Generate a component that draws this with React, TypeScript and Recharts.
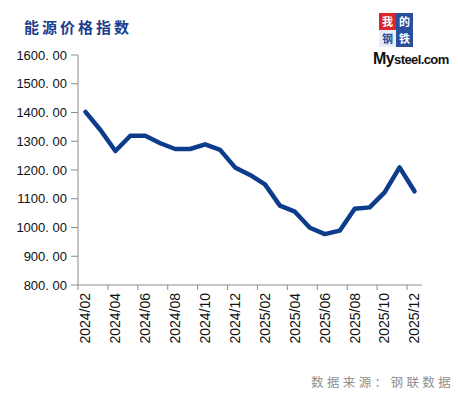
import { LineChart, Line, XAxis, YAxis } from 'recharts';

// ============================================================================
// Data
// ============================================================================

const months = [
  '2024/02', '2024/03', '2024/04', '2024/05', '2024/06', '2024/07', '2024/08',
  '2024/09', '2024/10', '2024/11', '2024/12', '2025/01', '2025/02', '2025/03',
  '2025/04', '2025/05', '2025/06', '2025/07', '2025/08', '2025/09', '2025/10',
  '2025/11', '2025/12',
];

const energyIndex = [
  1402, 1339, 1266, 1319, 1319, 1293, 1273, 1273, 1289, 1270, 1209, 1183,
  1150, 1076, 1055, 999, 977, 989, 1065, 1070, 1122, 1209, 1126,
];

const yTicks = [800, 900, 1000, 1100, 1200, 1300, 1400, 1500, 1600];

const data = months.map((m, i) => ({ month: m, value: energyIndex[i] }));

// ============================================================================
// Layout
// ============================================================================

const W = 458;
const H = 397;
const PLOT_LEFT = 78;
const PLOT_W = 344;
const HALF_STEP = PLOT_W / months.length / 2;

const AXIS = '#8c8c8c';
const LINE = '#0c3c8a';
const TICK_FONT = '"Liberation Sans", Arial, sans-serif';

function MonthTick(props: any) {
  const { x, y, payload } = props;
  const bx = x - HALF_STEP;
  return (
    <g>
      <line x1={bx} y1={y} x2={bx} y2={y + 5} stroke={AXIS} strokeWidth={1} />
      <text
        x={x}
        y={y + 8}
        transform={`rotate(-90, ${x}, ${y + 8})`}
        textAnchor="end"
        dy="0.35em"
        fontSize={14}
        fontFamily={TICK_FONT}
        fill="#111"
      >
        {payload.value}
      </text>
    </g>
  );
}

// small 2x2 "我的钢铁" block plus the Mysteel.com wordmark
function Logo() {
  const cell = (bg: string, fg: string, ch: string, left: number, top: number) => (
    <div
      style={{
        position: 'absolute',
        left,
        top,
        width: 17,
        height: 17,
        background: bg,
        color: fg,
        fontSize: 11,
        lineHeight: '17px',
        textAlign: 'center',
        fontWeight: 700,
        fontFamily: '"Noto Sans CJK SC", sans-serif',
      }}
    >
      {ch}
    </div>
  );
  return (
    <div style={{ position: 'absolute', left: 379, top: 13, width: 80, height: 60 }}>
      {cell('#d9262c', '#fff', '我', 0, 0)}
      {cell('#2a4f9c', '#fff', '的', 17, 0)}
      {cell('#e8eef8', '#2a4f9c', '钢', 0, 17)}
      {cell('#2a4f9c', '#fff', '铁', 17, 17)}
      <div
        style={{
          position: 'absolute',
          left: -6,
          top: 37,
          fontFamily: '"Liberation Sans", Arial, sans-serif',
          fontWeight: 700,
          fontSize: 13,
          color: '#111',
          letterSpacing: -0.6,
          whiteSpace: 'nowrap',
        }}
      >
        <span style={{ fontSize: 16 }}>My</span>steel.com
      </div>
    </div>
  );
}

// ============================================================================
// Component
// ============================================================================

export default function App() {
  return (
    <div style={{ position: 'absolute', left: 0, top: 0, width: W, height: H, background: '#fff' }}>
      <div
        style={{
          position: 'absolute',
          left: 24,
          top: 19,
          fontSize: 15,
          lineHeight: 1,
          fontWeight: 700,
          letterSpacing: 3,
          color: '#1b3d8d',
          fontFamily: '"Noto Sans CJK SC", sans-serif',
          whiteSpace: 'nowrap',
        }}
      >
        能源价格指数
      </div>
      <Logo />
      <LineChart
        width={W}
        height={H}
        data={data}
        margin={{ top: 55, right: W - PLOT_LEFT - PLOT_W, bottom: 42, left: 0 }}
      >
        <XAxis
          dataKey="month"
          interval={1}
          height={70}
          padding={{ left: HALF_STEP, right: HALF_STEP }}
          axisLine={{ stroke: AXIS, strokeWidth: 1 }}
          tickLine={false}
          tickSize={0}
          tickMargin={0}
          tick={<MonthTick />}
        />
        <YAxis
          width={PLOT_LEFT}
          domain={[800, 1600]}
          ticks={yTicks}
          interval={0}
          axisLine={{ stroke: AXIS, strokeWidth: 1 }}
          tickLine={{ stroke: AXIS }}
          tickSize={7}
          tickMargin={4}
          tick={{ fontSize: 13, fill: '#111', fontFamily: TICK_FONT }}
          tickFormatter={(v: number) => v.toFixed(2).replace('.', '. ')}
        />
        <Line
          type="linear"
          dataKey="value"
          stroke={LINE}
          strokeWidth={4.5}
          strokeLinejoin="round"
          strokeLinecap="round"
          dot={false}
          activeDot={false}
          isAnimationActive={false}
        />
      </LineChart>
      <div
        style={{
          position: 'absolute',
          left: 311,
          top: 376,
          fontSize: 12.5,
          lineHeight: 1,
          letterSpacing: 3.4,
          color: '#8f8f8f',
          fontFamily: '"Noto Sans CJK SC", sans-serif',
          whiteSpace: 'nowrap',
        }}
      >
        数据来源：钢联数据
      </div>
    </div>
  );
}
